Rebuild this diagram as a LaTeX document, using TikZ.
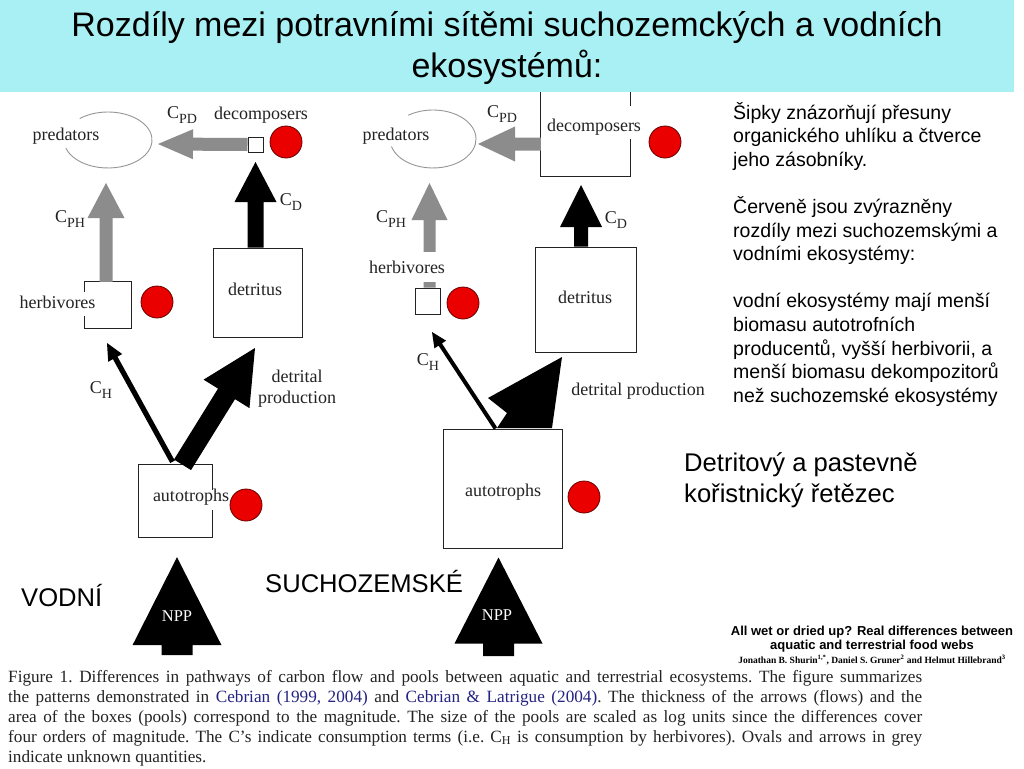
\documentclass[tikz,border=0pt]{standalone}
\usepackage{fontspec}
\setmainfont{Liberation Serif}
\newfontfamily\arial{Liberation Sans}
\usetikzlibrary{calc}
\definecolor{band}{RGB}{168,240,243}
\definecolor{agray}{RGB}{140,140,140}
\definecolor{egray}{RGB}{150,150,150}
\definecolor{dotred}{RGB}{235,0,0}
\definecolor{citeblue}{RGB}{35,35,130}
\definecolor{ink}{RGB}{35,35,35}
% block arrow: #1 style, #2 start, #3 tip, #4 shaft half width, #5 head half width, #6 head length
\newcommand{\blockarrow}[6]{%
  \coordinate (bah) at ($(#3)!#6!(#2)$);
  \fill[#1] ($(#2)!#4!90:(#3)$) -- ($(bah)!#4!90:(#3)$) -- ($(bah)!#5!90:(#3)$) -- (#3)
    -- ($(bah)!#5!-90:(#3)$) -- ($(bah)!#4!-90:(#3)$) -- ($(#2)!#4!-90:(#3)$) -- cycle;}
\newcommand{\Csub}[1]{C\raisebox{-0.28em}{\fontsize{14}{14}\selectfont #1}}
\begin{document}
\begin{tikzpicture}[x=1pt,y=-1pt,
  boxline/.style={draw=ink, line width=1pt},
  pool/.style={boxline, inner sep=0pt},
  hole/.style={inner sep=0pt},
  lab/.style={font=\fontsize{18}{20}\selectfont, text=ink, inner sep=0pt, anchor=base},
  npp/.style={font=\fontsize{16.5}{18}\selectfont, text=white, inner sep=0pt, anchor=base},
  dotc/.style={circle, fill=dotred, draw=black!60!red, line width=0.8pt, minimum size=32pt, inner sep=0pt},
  grayarr/.style={fill=agray},
  blackarr/.style={fill=black},
  oval/.style={draw=egray, line width=0.9pt},
  big/.style={font=\arial\fontsize{25.6}{30}\selectfont, inner sep=0pt, anchor=base west},
  side/.style={font=\arial\fontsize{19.5}{23.6}\selectfont, inner sep=0pt, anchor=base west}
]
\useasboundingbox (0,0) rectangle (1024,768);
\fill[white] (0,0) rectangle (1024,768);

% ---------- title band ----------
\fill[band] (0,0) rectangle (1014,92);
\node[font=\arial\fontsize{34}{40.5}\selectfont, align=center, inner sep=0pt] (title) at (507,48)
  {Rozdíly mezi potravními sítěmi suchozemckých a vodních\\ekosystémů:};

% ================= LEFT (aquatic) =================
\coordinate (predLc) at (108,140);
\draw[oval] (predLc) ++(230:44 and 28) arc[start angle=230, end angle=523, x radius=44, y radius=28];
\node[lab] (predLt) at (66,140) {predators};

\node[pool, minimum size=15pt] (decL) at (255.5,144.5) {};
\node[lab] (decLt) at (261,119) {decomposers};
\node[lab] (cpdL) at (182,118) {\Csub{PD}};

\node[pool, minimum width=89pt, minimum height=89pt] (detL) at (257.5,292.5) {};
\node[lab] (detLt) at (255,295) {detritus};

\node[hole, minimum width=46pt, minimum height=46pt] (herL) at (108,305) {};
\draw[boxline] ($(herL.west)+(0,-13)$) |- (herL.north east) |- (herL.south west) -- +(0,-12);
\node[lab] (herLt) at (57.5,308) {herbivores};

\node[hole, minimum width=73pt, minimum height=72pt] (autoL) at (175.5,501) {};
\draw[boxline] ($(autoL.east)+(0,-11)$) |- (autoL.north west) |- (autoL.south east) -- +(0,-27);
\node[lab] (autoLt) at (191,501) {autotrophs};

% arrows left
\coordinate (tipPDL) at (158,144);
\blockarrow{grayarr}{decL.west}{tipPDL}{6.5pt}{15pt}{35pt}
\coordinate (tipDL) at (255.5,162);
\coordinate (srcDL) at ($(detL.north)+(-2,0)$);
\blockarrow{blackarr}{srcDL}{tipDL}{8pt}{21pt}{40pt}
\coordinate (tipPHL) at (106,183);
\coordinate (srcPHL) at ($(herL.north)+(-2,0)$);
\blockarrow{grayarr}{srcPHL}{tipPHL}{6.5pt}{18.5pt}{35pt}
\coordinate (srcHL) at ($(autoL.north)+(-3,-3)$);
\coordinate (tipHL) at (107,343);
\blockarrow{blackarr}{srcHL}{tipHL}{2.6pt}{8pt}{17pt}
\coordinate (srcDPL) at ($(autoL.north)+(7,0)$);
\coordinate (tipDPL) at (255,348);
\blockarrow{blackarr}{srcDPL}{tipDPL}{10pt}{27pt}{54pt}
\coordinate (srcNPPL) at (177,655);
\coordinate (tipNPPL) at ($(autoL.south)+(1.5,20)$);
\blockarrow{blackarr}{srcNPPL}{tipNPPL}{15.5pt}{44.5pt}{88pt}
\node[npp] (nppL) at (177,621) {NPP};

\node[lab] (cphL) at (70,222) {\Csub{PH}};
\node[lab] (cdL) at (291,205) {\Csub{D}};
\node[lab] (chL) at (101,393) {\Csub{H}};
\node[lab] (dpL1) at (297,382) {detrital};
\node[lab] (dpL2) at (297,403) {production};

\node[dotc] (r1) at (286,142) {};
\node[dotc] (r2) at (157,302) {};
\node[dotc] (r3) at (246,505) {};

% ================= RIGHT (terrestrial) =================
\coordinate (predRc) at (433,139);
\draw[oval] (predRc) ++(235:43 and 29) arc[start angle=235, end angle=525, x radius=43, y radius=29];
\node[lab] (predRt) at (396,140) {predators};

\node[hole, minimum width=89pt, minimum height=84pt] (decR) at (585.5,134) {};
\draw[boxline] (decR.north east) -- +(0,14);
\draw[boxline] ($(decR.south east)+(0,-37)$) -- (decR.south east) -- (decR.south west) -- (decR.north west);
\node[lab] (decRt) at (594,131) {decomposers};
\node[lab] (cpdR) at (502,117) {\Csub{PD}};

\node[pool, minimum width=101pt, minimum height=105pt] (detR) at (585.5,299.5) {};
\node[lab] (detRt) at (585,303) {detritus};

\node[pool, minimum width=25pt, minimum height=26pt] (herR) at (427.5,301) {};

\node[pool, minimum width=119pt, minimum height=119pt] (autoR) at (502.5,488.5) {};
\node[lab] (autoRt) at (503,496) {autotrophs};

% arrows right
\coordinate (srcPDR) at ($(decR.west)+(0,10)$);
\coordinate (tipPDR) at (478,144);
\blockarrow{grayarr}{srcPDR}{tipPDR}{6.5pt}{17.5pt}{37pt}
\coordinate (srcDR) at ($(detR.north)+(-4.5,0)$);
\coordinate (tipDR) at (581,185);
\blockarrow{blackarr}{srcDR}{tipDR}{7pt}{21pt}{42pt}
\coordinate (srcPHR) at ($(herR.north)+(2,0)$);
\coordinate (tipPHR) at (429.5,183);
\blockarrow{grayarr}{srcPHR}{tipPHR}{6pt}{18pt}{37pt}
\node[lab, fill=white, inner xsep=1pt, inner ysep=8.5pt] (herRt) at (407,273) {herbivores};
\coordinate (srcHR) at ($(autoR.north)+(-7,0)$);
\coordinate (tipHR) at (432,332);
\blockarrow{blackarr}{srcHR}{tipHR}{2pt}{7pt}{15pt}
\fill[black] (497,428) -- (507,413) -- (488,398) -- (562,357) -- (552,428) -- cycle;
\coordinate (srcNPPR) at (498.5,656);
\coordinate (tipNPPR) at ($(autoR.south)+(-4,9)$);
\blockarrow{blackarr}{srcNPPR}{tipNPPR}{15.5pt}{44pt}{86pt}
\node[npp] (nppR) at (497,620) {NPP};

\node[lab] (cphR) at (391,222) {\Csub{PH}};
\node[lab] (cdR) at (616,223) {\Csub{D}};
\node[lab] (chR) at (428,365) {\Csub{H}};
\node[lab] (dpR) at (638,395) {detrital production};

\node[dotc] (r4) at (665,142) {};
\node[dotc] (r5) at (463,303) {};
\node[dotc] (r6) at (584,497) {};

% ---------- Czech texts ----------
\node[big] (vodni) at (21,606) {VODNÍ};
\node[big] (sucho) at (265,592) {SUCHOZEMSKÉ};
\node[big] (chain1) at (684,471) {Detritový a pastevně};
\node[big] (chain2) at (684,502) {kořistnický řetězec};

\node[side] (s1) at (733,119) {Šipky znázorňují přesuny};
\node[side] (s2) at (733,142.6) {organického uhlíku a čtverce};
\node[side] (s3) at (733,166.2) {jeho zásobníky.};
\node[side] (s4) at (733,213.4) {Červeně jsou zvýrazněny};
\node[side] (s5) at (733,237) {rozdíly mezi suchozemskými a};
\node[side] (s6) at (733,260.6) {vodními ekosystémy:};
\node[side] (s7) at (733,307.8) {vodní ekosystémy mají menší};
\node[side] (s8) at (733,331.4) {biomasu autotrofních};
\node[side] (s9) at (733,355) {producentů, vyšší herbivorii, a};
\node[side] (s10) at (733,378.6) {menší biomasu dekompozitorů};
\node[side] (s11) at (733,402.2) {než suchozemské ekosystémy};

% ---------- citation ----------
\node[font=\arial\bfseries\fontsize{13}{13.5}\selectfont, align=center, inner sep=0pt] (cit) at (872,639)
  {All wet or dried up? Real differences between\\aquatic and terrestrial food webs};
\node[font=\bfseries\fontsize{9.5}{10}\selectfont, inner sep=0pt] (auth) at (872,660)
  {Jonathan B. Shurin\textsuperscript{1,*}, Daniel S. Gruner\textsuperscript{2} and Helmut Hillebrand\textsuperscript{3}};

% ---------- caption ----------
\node[anchor=north west, inner sep=0pt, text width=914pt, align=justify,
      font=\frenchspacing\fontsize{17.2}{20}\selectfont, text=ink] (cap) at (8,670)
  {Figure 1. Differences in pathways of carbon flow and pools between aquatic and terrestrial ecosystems. The figure summarizes\linebreak
   the patterns demonstrated in \textcolor{citeblue}{Cebrian (1999, 2004)} and \textcolor{citeblue}{Cebrian \& Latrigue (2004)}. The thickness of the arrows (flows) and the\linebreak
   area of the boxes (pools) correspond to the magnitude. The size of the pools are scaled as log units since the differences cover\linebreak
   four orders of magnitude. The C’s indicate consumption terms (i.e. C\textsubscript{H} is consumption by herbivores). Ovals and arrows in grey\linebreak
   indicate unknown quantities.};
\end{tikzpicture}
\end{document}
